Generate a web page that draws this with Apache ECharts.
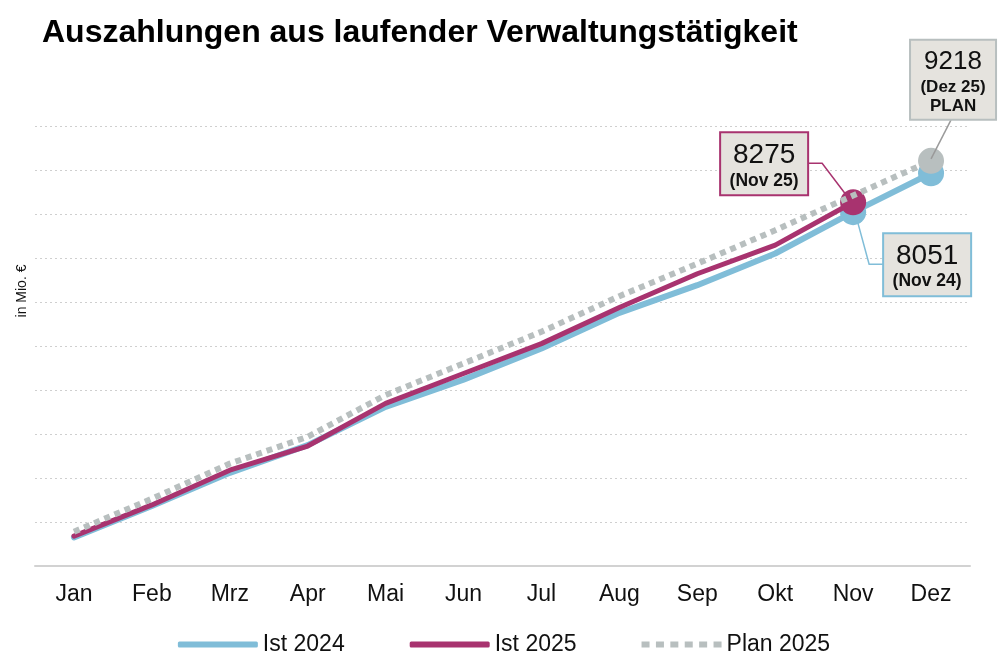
<!DOCTYPE html>
<html>
<head>
<meta charset="utf-8">
<script src="https://cdn.jsdelivr.net/npm/echarts@6/dist/echarts.min.js"></script>
<style>
html,body{margin:0;padding:0;background:#fff;}
#main{width:1008px;height:672px;}
</style>
</head>
<body>
<div id="main"></div>
<script>
const months = ['Jan','Feb','Mrz','Apr','Mai','Jun','Jul','Aug','Sep','Okt','Nov','Dez'];
const ist2024 = [650, 1365, 2120, 2750, 3620, 4240, 4950, 5760, 6390, 7110, 8051, 8935];
const ist2025 = [680, 1390, 2180, 2730, 3700, 4380, 5060, 5880, 6650, 7300, 8275];
const plan2025 = [780, 1530, 2330, 2940, 3890, 4610, 5330, 6140, 6880, 7640, 8430, 9218];
const seriesNames = ['Ist 2024','Ist 2025','Plan 2025'];
const titleText = 'Auszahlungen aus laufender Verwaltungstätigkeit';
const yAxisName = 'in Mio. €';
const calloutIst2025 = '(Nov 25)';
const calloutIst2024 = '(Nov 24)';
const calloutPlan = ['(Dez 25)', 'PLAN'];

const C_BLUE = '#80bdd8';
const C_MAG = '#a8336f';
const C_GRAY = '#b8bfbf';
const FONT = 'Liberation Sans, Arial, sans-serif';

function withMarkerAt(arr, idxs, color) {
  return arr.map((v, i) => idxs.indexOf(i) >= 0
    ? { value: v, symbol: 'circle', symbolSize: 26, itemStyle: { color: color } }
    : { value: v, symbol: 'none' });
}

const dotIcon = 'path://M0,0h8v6h-8z M14.4,0h8v6h-8z M28.8,0h8v6h-8z M43.2,0h8v6h-8z M57.6,0h8v6h-8z M72,0h8v6h-8z';

const chart = echarts.init(document.getElementById('main'), null, { renderer: 'canvas' });
const option = {
  animation: false,
  backgroundColor: '#ffffff',
  textStyle: { fontFamily: FONT },
  title: {
    text: titleText,
    left: 37, top: 12,
    textStyle: { fontFamily: FONT, fontSize: 32, fontWeight: 'bold', color: '#000' }
  },
  legend: {
    bottom: 11,
    left: 'center',
    itemWidth: 80,
    itemHeight: 6,
    itemGap: 65,
    textStyle: { fontFamily: FONT, fontSize: 23, color: '#111' },
    data: [
      { name: seriesNames[0], icon: 'roundRect', itemStyle: { color: C_BLUE } },
      { name: seriesNames[1], icon: 'roundRect', itemStyle: { color: C_MAG } },
      { name: seriesNames[2], icon: dotIcon, itemStyle: { color: C_GRAY } }
    ]
  },
  grid: { left: 35, right: 38, top: 126.5, bottom: 106, containLabel: false },
  xAxis: {
    type: 'category',
    data: months,
    boundaryGap: true,
    axisLine: { show: true, lineStyle: { color: '#d2d2d2', width: 2 } },
    axisTick: { show: false },
    axisLabel: { fontFamily: FONT, fontSize: 23, color: '#111', margin: 17 }
  },
  yAxis: {
    type: 'value',
    min: 0, max: 10000, interval: 1000,
    axisLine: { show: false },
    axisTick: { show: false },
    axisLabel: { show: false },
    splitLine: { show: true, lineStyle: { color: '#cfcfcf', width: 1, type: [2, 3] } }
  },
  series: [
    {
      name: seriesNames[0], type: 'line', z: 2,
      data: withMarkerAt(ist2024, [10, 11], C_BLUE),
      lineStyle: { color: C_BLUE, width: 6, cap: 'round', join: 'round' },
      itemStyle: { color: C_BLUE },
      showSymbol: true
    },
    {
      name: seriesNames[1], type: 'line', z: 3,
      data: withMarkerAt(ist2025, [ist2025.length - 1], C_MAG),
      lineStyle: { color: C_MAG, width: 5, cap: 'round', join: 'round' },
      itemStyle: { color: C_MAG },
      showSymbol: true
    },
    {
      name: seriesNames[2], type: 'line', z: 4,
      data: withMarkerAt(plan2025, [plan2025.length - 1], C_GRAY),
      lineStyle: { color: C_GRAY, width: 6, type: [6, 5], cap: 'butt' },
      itemStyle: { color: C_GRAY },
      showSymbol: true
    }
  ]
};
chart.setOption(option);

function px(catIdx, val) {
  return chart.convertToPixel({ gridIndex: 0 }, [catIdx, val]);
}

const BOX_BG = '#e5e3de';
const iM = ist2025.length - 1;
const iB = 10;
const iP = plan2025.length - 1;
const pM = px(iM, ist2025[iM]);
const pB = px(iB, ist2024[iB]);
const pP = px(iP, plan2025[iP]);

function box(x, y, w, h, border, lines) {
  const els = [{
    type: 'rect', z: 100,
    shape: { x: x, y: y, width: w, height: h },
    style: { fill: BOX_BG, stroke: border, lineWidth: 2 }
  }];
  lines.forEach(l => {
    els.push({
      type: 'text', z: 101,
      style: {
        x: x + w / 2, y: y + l.dy, text: l.text,
        fill: '#111', font: (l.bold ? 'bold ' : '') + l.size + 'px ' + FONT,
        align: 'center', verticalAlign: 'middle'
      }
    });
  });
  return els;
}

const graphics = [];
graphics.push({
  type: 'text', z: 100, x: 22, y: 291, rotation: Math.PI / 2,
  style: { text: yAxisName, fill: '#111', font: '14px ' + FONT, align: 'center', verticalAlign: 'middle' }
});
// Ist 2025 callout
const mx = pM[0] - 133, my = pM[1] - 70;
graphics.push({
  type: 'polyline', z: 5,
  shape: { points: [[mx + 88, pM[1] - 39], [pM[0] - 31, pM[1] - 39], [pM[0] - 6, pM[1] - 6]] },
  style: { stroke: C_MAG, lineWidth: 1.5, fill: null }
});
graphics.push(...box(mx, my, 88, 63, C_MAG, [
  { text: String(ist2025[iM]), size: 28, bold: false, dy: 23 },
  { text: calloutIst2025, size: 17.5, bold: true, dy: 49 }
]));
// Ist 2024 callout
const bx = pB[0] + 30, by = pB[1] + 21;
graphics.push({
  type: 'polyline', z: 1,
  shape: { points: [[bx, pB[1] + 52], [pB[0] + 16, pB[1] + 52], [pB[0] + 4, pB[1] + 8]] },
  style: { stroke: C_BLUE, lineWidth: 1.5, fill: null }
});
graphics.push(...box(bx, by, 88, 63, C_BLUE, [
  { text: String(ist2024[iB]), size: 28, bold: false, dy: 23 },
  { text: calloutIst2024, size: 17.5, bold: true, dy: 48.5 }
]));
// Plan callout
const gx = pP[0] - 21, gy = pP[1] - 121;
graphics.push({
  type: 'line', z: 5,
  shape: { x1: pP[0] + 20, y1: gy + 80, x2: pP[0], y2: pP[1] - 2 },
  style: { stroke: '#9a9a9a', lineWidth: 1.5 }
});
graphics.push(...box(gx, gy, 86, 80, C_GRAY, [
  { text: String(plan2025[iP]), size: 26, bold: false, dy: 22 },
  { text: calloutPlan[0], size: 17, bold: true, dy: 47.5 },
  { text: calloutPlan[1], size: 17, bold: true, dy: 66 }
]));

chart.setOption({ graphic: graphics });
</script>
</body>
</html>
